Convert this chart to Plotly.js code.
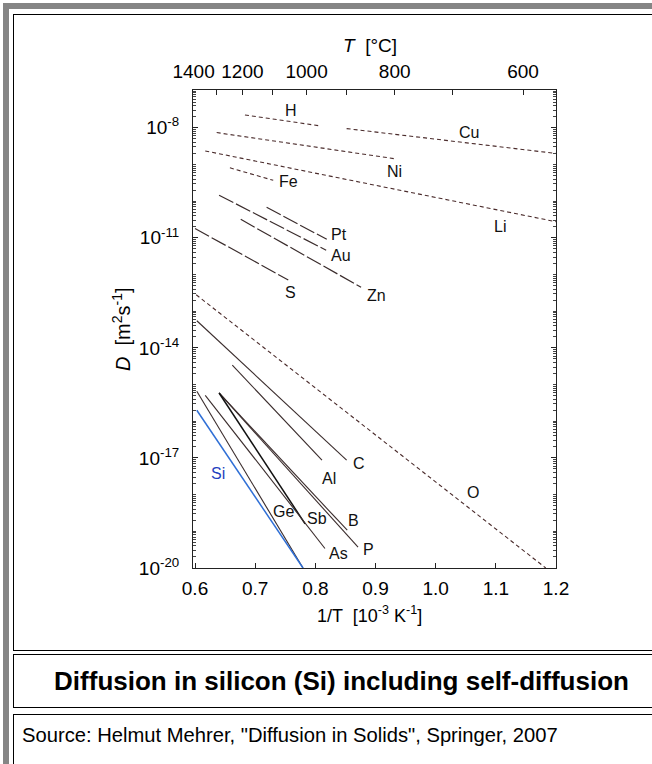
<!DOCTYPE html>
<html>
<head>
<meta charset="utf-8">
<script src="https://cdn.plot.ly/plotly-3.0.1.min.js"></script>
<style>
  html, body { margin:0; padding:0; background:#fff; width:652px; height:764px; overflow:hidden; font-family:"Liberation Sans", Arial, sans-serif; }
  .gray-top { position:absolute; left:3px; top:3px; width:700px; height:6px; background:#858585; }
  .gray-left { position:absolute; left:3px; top:3px; width:6px; height:800px; background:#858585; }
  .box { position:absolute; left:13px; width:680px; border:1px solid #000; background:#fff; }
  #b1 { top:14px; height:635px; }
  #b2 { top:654px; height:52px; }
  #b3 { top:714px; height:100px; }
  #caption { position:absolute; left:13px; width:657px; top:664px; text-align:center; font-weight:bold; font-size:26px; line-height:34px; color:#000; white-space:nowrap; }
  #source { position:absolute; left:22px; top:723px; font-size:20.2px; line-height:24px; color:#000; white-space:nowrap; }
  #chart { position:absolute; left:0; top:0; width:652px; height:650px; }
</style>
</head>
<body>
<div class="gray-top"></div>
<div class="gray-left"></div>
<div class="box" id="b1"></div>
<div class="box" id="b2"></div>
<div class="box" id="b3"></div>
<div id="caption">Diffusion in silicon (Si) including self-diffusion</div>
<div id="source">Source: Helmut Mehrer, "Diffusion in Solids", Springer, 2007</div>
<div id="chart"></div>
<script>
// ---- data: 1/T [10^-3 K^-1] endpoints and D [m^2 s^-1] endpoints ----
const H_x  = [0.683, 0.809];  const H_D  = [2.24e-8, 1.12e-8];
const Cu_x = [0.852, 1.200];  const Cu_D = [9.5e-9, 2.0e-9];
const Ni_x = [0.636, 0.935];  const Ni_D = [7.4e-9, 1.41e-9];
const Li_x = [0.617, 1.200];  const Li_D = [2.34e-9, 2.75e-11];
const Fe_x = [0.658, 0.730];  const Fe_D = [8.1e-10, 3.7e-10];
const Pt_x = [0.719, 0.819];  const Pt_D = [6.8e-11, 9.1e-12];
const Au_x = [0.640, 0.818];  const Au_D = [1.45e-10, 4.6e-12];
const Zn_x = [0.676, 0.876];  const Zn_D = [3.2e-11, 4.5e-13];
const S_x  = [0.600, 0.755];  const S_D  = [1.8e-11, 7.1e-13];
const O_x  = [0.602, 1.183];  const O_D  = [2.8e-13, 1.0e-20];
const C_x  = [0.603, 0.852];  const C_D  = [5.5e-14, 8.7e-18];
const Al_x = [0.662, 0.811];  const Al_D = [3.4e-15, 8.7e-18];
const B_x  = [0.640, 0.853];  const B_D  = [5.9e-16, 1.07e-19];
const P_x  = [0.640, 0.871];  const P_D  = [5.9e-16, 3.7e-20];
const Sb_x = [0.640, 0.783];  const Sb_D = [5.9e-16, 1.6e-19];
const As_x = [0.617, 0.816];  const As_D = [5.1e-16, 3.4e-20];
const Ge_x = [0.603, 0.7795]; const Ge_D = [6.6e-16, 1.0e-20];
const Si_x = [0.603, 0.7795]; const Si_D = [2.0e-16, 1.0e-20];

// label names and positions
const labelNames = ['H','Cu','Ni','Li','Fe','Pt','Au','Zn','S','O','C','Al','B','P','As','Sb','Ge','Si'];
const labelX     = [0.7595,1.055,0.932,1.107,0.756,0.839,0.842,0.902,0.7595,1.062,0.8726,0.822,0.8626,0.889,0.8377,0.802,0.7468,0.6387];
const labelD     = [3.0e-8,7.6e-9,6.6e-10,2.0e-11,3.4e-10,1.26e-11,3.4e-12,2.6e-13,3.2e-13,1.17e-18,7.2e-18,2.75e-18,2.0e-19,3.2e-20,2.5e-20,2.2e-19,3.4e-19,3.8e-18];

// axis ticks
const xTicks = [0.6, 0.7, 0.8, 0.9, 1.0, 1.1, 1.2];
const tempLabelled = [1400, 1200, 1000, 800, 600];
const tempMinor = [1300, 1100, 900, 700];
const yLabelled = [-20, -17, -14, -11, -8];
const yOtherDecades = [-19, -18, -16, -15, -13, -12, -10, -9, -7];

// ---- build ----
const FONT = 'Liberation Sans, Arial, sans-serif';
const shortDash = '4px,3px';
const longDash = '16px,3px';
const dashCol = '#4a2b2b';
const solidCol = '#3a2c2c';

function tr(x, y, dash, color, width) {
  return {x:x, y:y, type:'scatter', mode:'lines', hoverinfo:'skip', showlegend:false,
          line:{color:color, width:width, dash:dash}};
}
const traces = [
  tr(H_x, H_D, shortDash, dashCol, 1.1),
  tr(Cu_x, Cu_D, shortDash, dashCol, 1.1),
  tr(Ni_x, Ni_D, shortDash, dashCol, 1.1),
  tr(Li_x, Li_D, shortDash, dashCol, 1.1),
  tr(Fe_x, Fe_D, shortDash, dashCol, 1.1),
  tr(O_x, O_D, shortDash, dashCol, 1.1),
  tr(Pt_x, Pt_D, longDash, solidCol, 1.2),
  tr(Au_x, Au_D, longDash, solidCol, 1.2),
  tr(Zn_x, Zn_D, longDash, solidCol, 1.2),
  tr(S_x, S_D, longDash, solidCol, 1.2),
  tr(C_x, C_D, 'solid', solidCol, 1.1),
  tr(Al_x, Al_D, 'solid', solidCol, 1.1),
  tr(B_x, B_D, 'solid', solidCol, 1.1),
  tr(P_x, P_D, 'solid', solidCol, 1.1),
  tr(Sb_x, Sb_D, 'solid', '#111', 1.5),
  tr(As_x, As_D, 'solid', solidCol, 1.1),
  tr(Ge_x, Ge_D, 'solid', solidCol, 1.1),
  tr(Si_x, Si_D, 'solid', '#2f6fd6', 1.5),
];
// invisible trace to activate the top (temperature) axis
traces.push({x:[0.6,1.2], y:[1e-20,1e-20], xaxis:'x2', yaxis:'y', type:'scatter', mode:'lines',
             line:{width:0, color:'rgba(0,0,0,0)'}, hoverinfo:'skip', showlegend:false});

const annotations = labelNames.map((n,i) => ({
  x: labelX[i], y: Math.log10(labelD[i]), xref:'x', yref:'y', text:n, showarrow:false,
  font:{family:FONT, size:16, color: n==='Si' ? '#1f3fc0' : '#111'},
  xanchor:'center', yanchor:'middle'
}));
annotations.push({xref:'paper', yref:'paper', x:0.487, y:1, yshift:45, text:'<i>T</i>  [°C]', showarrow:false,
  font:{family:FONT, size:19, color:'#000'}, xanchor:'center', yanchor:'middle'});
annotations.push({xref:'paper', yref:'paper', x:0.487, y:0, yshift:-46, text:'1/T  [10<sup>-3</sup> K<sup>-1</sup>]', showarrow:false,
  font:{family:FONT, size:18, color:'#000'}, xanchor:'center', yanchor:'middle'});
annotations.push({xref:'paper', yref:'paper', x:0, xshift:-72, y:0.5, text:'<i>D</i>  [m<sup>2</sup>s<sup>-1</sup>]', showarrow:false, textangle:-90,
  font:{family:FONT, size:20, color:'#000'}, xanchor:'center', yanchor:'middle'});

const yMinor = yOtherDecades.map(e => Math.pow(10, e));
[-20,-19,-18,-17,-16,-15,-14,-13,-12,-11,-10,-9,-8].forEach(e => { [2,3,4,5,6,7,8,9].forEach(m => yMinor.push(m * Math.pow(10, e))); });

const tc = t => 1000 / (t + 273.15);

const layout = {
  width:652, height:650,
  margin:{l:193, r:96, t:90, b:82},
  paper_bgcolor:'rgba(0,0,0,0)', plot_bgcolor:'rgba(0,0,0,0)',
  font:{family:FONT, size:19, color:'#000'},
  showlegend:false,
  xaxis:{range:[0.59666,1.2], tickvals:xTicks, ticktext:xTicks.map(v=>v.toFixed(1)),
         ticks:'inside', ticklen:5, tickcolor:'#222', showline:true, linecolor:'#222', linewidth:1,
         showgrid:false, zeroline:false, ticklabelstandoff:3, tickfont:{family:FONT, size:19}},
  xaxis2:{range:[0.59666,1.2], overlaying:'x', side:'top', anchor:'y',
          tickvals:tempLabelled.map(tc), ticktext:tempLabelled.map(String),
          ticks:'inside', ticklen:5, tickcolor:'#222', showline:true, linecolor:'#222', linewidth:1,
          showgrid:false, zeroline:false, ticklabelstandoff:3, tickfont:{family:FONT, size:19},
          minor:{tickvals:tempMinor.map(tc), ticks:'inside', ticklen:5, tickcolor:'#222', showgrid:false}},
  yaxis:{type:'log', range:[-20,-6.97], tickvals:yLabelled.map(e => Math.pow(10, e)),
         ticktext:yLabelled.map(e => '10<sup>' + e + '</sup>'),
         ticks:'inside', ticklen:5, tickcolor:'#222', showline:true, linecolor:'#222', linewidth:1,
         mirror:'ticks', showgrid:false, zeroline:false, ticklabelstandoff:9, tickfont:{family:FONT, size:19},
         minor:{tickvals:yMinor, ticks:'inside', ticklen:3, tickcolor:'#444', showgrid:false}},
  annotations:annotations
};
Plotly.newPlot('chart', traces, layout, {staticPlot:true, displayModeBar:false});
</script>
</body>
</html>
